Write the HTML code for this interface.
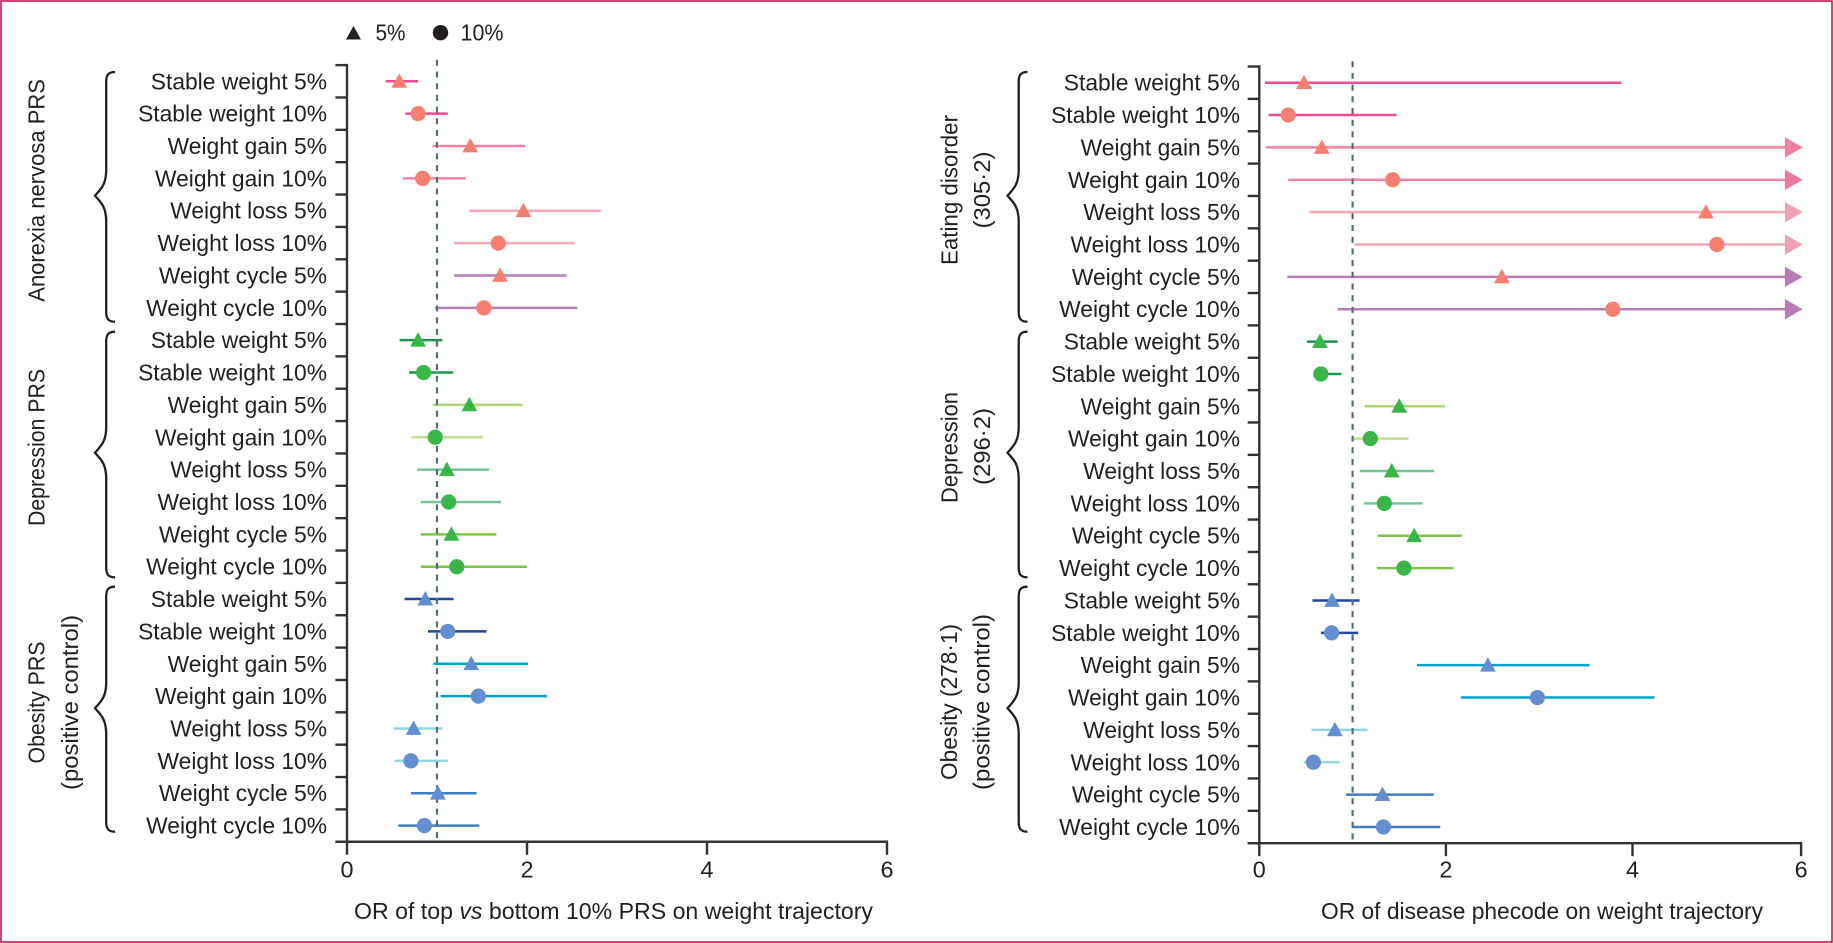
<!DOCTYPE html>
<html lang="en">
<head>
<meta charset="utf-8">
<title>OR forest plots of weight trajectory</title>
<style>
html,body{margin:0;padding:0;background:#fff;width:1833px;height:943px;overflow:hidden}
svg{display:block}
text{font-family:"Liberation Sans",sans-serif;fill:#231f20;font-size:23.4px}
</style>
</head>
<body>
<svg id="figure" xmlns="http://www.w3.org/2000/svg" width="1833" height="943" viewBox="0 0 1833 943">
  <rect x="1" y="1" width="1831" height="941" fill="#fff" stroke="#c8174f" stroke-width="1.6"/>

  <g>
    <polygon points="346,39.5 361,39.5 353.5,26" fill="#231f20"/>
    <text x="375.5" y="40.5" textLength="30" lengthAdjust="spacingAndGlyphs">5%</text>
    <circle cx="440.5" cy="32.7" r="7.7" fill="#231f20"/>
    <text x="460.5" y="40.5" textLength="43" lengthAdjust="spacingAndGlyphs">10%</text>
  </g>

  <g>
    <text transform="translate(44.6 190.4) rotate(-90)" text-anchor="middle" textLength="222.7" lengthAdjust="spacingAndGlyphs">Anorexia nervosa PRS</text>
    <text transform="translate(44.6 447.5) rotate(-90)" text-anchor="middle" textLength="157" lengthAdjust="spacingAndGlyphs">Depression PRS</text>
    <text transform="translate(44.6 702.5) rotate(-90)" text-anchor="middle" textLength="122" lengthAdjust="spacingAndGlyphs">Obesity PRS</text>
    <text transform="translate(78 702.5) rotate(-90)" text-anchor="middle" textLength="175" lengthAdjust="spacingAndGlyphs">(positive control)</text>
  </g>

  <g>
    <text transform="translate(957.7 190) rotate(-90)" text-anchor="middle" textLength="150" lengthAdjust="spacingAndGlyphs">Eating disorder</text>
    <text transform="translate(990 190) rotate(-90)" text-anchor="middle" textLength="77" lengthAdjust="spacingAndGlyphs">(305·2)</text>
    <text transform="translate(957.7 447.5) rotate(-90)" text-anchor="middle" textLength="111" lengthAdjust="spacingAndGlyphs">Depression</text>
    <text transform="translate(990 446.5) rotate(-90)" text-anchor="middle" textLength="77" lengthAdjust="spacingAndGlyphs">(296·2)</text>
    <text transform="translate(957 702) rotate(-90)" text-anchor="middle" textLength="156" lengthAdjust="spacingAndGlyphs">Obesity (278·1)</text>
    <text transform="translate(989.5 702) rotate(-90)" text-anchor="middle" textLength="176" lengthAdjust="spacingAndGlyphs">(positive control)</text>
  </g>

  <text x="354" y="919" textLength="519" lengthAdjust="spacingAndGlyphs">OR of top <tspan font-style="italic">vs</tspan> bottom 10% PRS on weight trajectory</text>
  <text x="1321" y="919" textLength="442" lengthAdjust="spacingAndGlyphs">OR of disease phecode on weight trajectory</text>
</svg>

<script>
// ---- Categories ----
const rowLabels = ["Stable weight 5%","Stable weight 10%","Weight gain 5%","Weight gain 10%","Weight loss 5%","Weight loss 10%","Weight cycle 5%","Weight cycle 10%"];
const xTickValues = [0, 2, 4, 6];
const xTickLabels = ["0", "2", "4", "6"];
const referenceOR = 1;

// ---- Left panel: OR of top vs bottom 10% PRS ----
const prsPoint = [
  0.58,0.79,1.37,0.84,1.96,1.68,1.70,1.52,
  0.79,0.85,1.36,0.98,1.11,1.13,1.16,1.22,
  0.87,1.12,1.38,1.46,0.74,0.71,1.01,0.86
];
const prsLow = [
  0.43,0.65,0.95,0.62,1.36,1.19,1.19,0.98,
  0.585,0.69,0.95,0.715,0.78,0.82,0.82,0.82,
  0.64,0.90,0.96,1.04,0.52,0.53,0.71,0.57
];
const prsHigh = [
  0.79,1.12,1.98,1.32,2.82,2.53,2.44,2.56,
  1.06,1.18,1.95,1.51,1.58,1.71,1.66,2.00,
  1.185,1.55,2.01,2.22,1.06,1.12,1.44,1.47
];

// ---- Right panel: OR of disease phecode (high of 6 = runs off the axis) ----
const phecodePoint = [
  0.48,0.31,0.67,1.43,4.87,5.00,2.60,3.79,
  0.65,0.66,1.50,1.19,1.42,1.34,1.66,1.55,
  0.78,0.775,2.45,2.98,0.81,0.58,1.32,1.33
];
const phecodeLow = [
  0.06,0.10,0.07,0.31,0.54,1.02,0.30,0.84,
  0.51,0.60,1.13,0.99,1.075,1.12,1.27,1.26,
  0.57,0.66,1.69,2.16,0.56,0.48,0.93,0.99
];
const phecodeHigh = [
  3.88,1.47,6,6,6,6,6,6,
  0.84,0.88,1.99,1.60,1.875,1.75,2.17,2.08,
  1.075,1.06,3.54,4.26,1.16,0.86,1.87,1.94
];

// ---- Styles (one per row, not data) ----
const lineColors = [
  "#ee4c97","#ee4c97","#f5809f","#f485a5","#f5a8b8","#f5a8b8","#b97eb8","#b97eb8",
  "#21924f","#21924f","#aed672","#bde08c","#72c595","#72c595","#7fc646","#7fc646",
  "#21479b","#21479b","#00a3c7","#00a3c7","#8fd7e2","#8fd7e2","#3f7fc1","#3f7fc1"
];
const arrowColors = [
  "#ee4c97","#ee4c97","#f07fa0","#ee78a0","#eea0b4","#eea0b4","#b87cb6","#b87cb6",
  "#21924f","#21924f","#aed672","#bde08c","#72c595","#72c595","#7fc646","#7fc646",
  "#21479b","#21479b","#00a3c7","#00a3c7","#8fd7e2","#8fd7e2","#3f7fc1","#3f7fc1"
];
const markerColors = ["#f77f72", "#39b54a", "#658ed0"];

const NS = "http://www.w3.org/2000/svg";
const svg = document.getElementById("figure");

function make(tag, attrs, parent) {
  const el = document.createElementNS(NS, tag);
  for (const k in attrs) el.setAttribute(k, attrs[k]);
  parent.appendChild(el);
  return el;
}

// Axis functions
function xLeft(v) { return 347 + 90 * v; }
function xRight(v) { return v <= 4 ? 1259.3 + 93.3 * v : 1632.5 + 84.3 * (v - 4); }

function drawBrace(x, top, tip, bottom, name, parent) {
  const sp = x + 11.2, end = x + 20;
  const d = "M" + end + " " + top +
    " C" + (sp + 2) + " " + top + " " + sp + " " + (top + 3) + " " + sp + " " + (top + 10) +
    " L" + sp + " " + (tip - 26) +
    " C" + sp + " " + (tip - 10) + " " + (x + 5) + " " + (tip - 6) + " " + x + " " + tip +
    " C" + (x + 5) + " " + (tip + 6) + " " + sp + " " + (tip + 10) + " " + sp + " " + (tip + 26) +
    " L" + sp + " " + (bottom - 10) +
    " C" + sp + " " + (bottom - 3) + " " + (sp + 2) + " " + bottom + " " + end + " " + bottom;
  const brace = make("path", { d: d, fill: "none", stroke: "#231f20", "stroke-width": 2.3 }, parent);
  
  
}

function drawPanel(cfg) {
  const panel = make("g", {}, svg);
  
  
  const rowY = i => cfg.y0 + 32.36 * i;
  const axisColor = "#333333";
  const axisWidth = 2.4;
  const x0 = cfg.x(0);

  // Row labels and y ticks
  for (let i = 0; i < 24; i++) {
    const label = make("text", { x: cfg.labelX, y: rowY(i) + 8, "text-anchor": "end", lengthAdjust: "spacingAndGlyphs" }, panel);
    label.textContent = rowLabels[i % 8];
    label.setAttribute('textLength', (label.getComputedTextLength() * 0.975).toFixed(2));
    
    
  }
  for (let i = 0; i <= 24; i++) {
    const ty = rowY(i) - 16.18;
    const tick = make("line", { x1: x0 - 11.6, x2: x0, y1: ty, y2: ty, stroke: axisColor, "stroke-width": axisWidth }, panel);
    
    
  }

  // Axes
  const axisY = rowY(24) - 16.18;
  const yAxis = make("line", { x1: x0, x2: x0, y1: rowY(0) - 17.4, y2: axisY, stroke: axisColor, "stroke-width": axisWidth }, panel);
  
  
  const xAxis = make("line", { x1: x0 - 11.6, x2: cfg.x(6) + 1, y1: axisY, y2: axisY, stroke: axisColor, "stroke-width": axisWidth }, panel);
  
  
  xTickValues.forEach((v, k) => {
    const tx = cfg.x(v);
    const t = make("line", { x1: tx, x2: tx, y1: axisY, y2: axisY + 13, stroke: axisColor, "stroke-width": axisWidth }, panel);
    
    
    const tl = make("text", { x: tx, y: 877.3, "text-anchor": "middle" }, panel);
    tl.textContent = xTickLabels[k];
    
    
  });

  // CI lines
  for (let i = 0; i < 24; i++) {
    const y = rowY(i);
    const clipped = cfg.high[i] >= 6;
    const ci = make("line", {
      x1: cfg.x(cfg.low[i]), x2: clipped ? cfg.x(6) - 16 : cfg.x(cfg.high[i]),
      y1: y, y2: y, stroke: lineColors[i], "stroke-width": 2.5
    }, panel);
    
    
    if (clipped) {
      const tip = cfg.x(6) + 1.5, base = tip - 17.7;
      const arrow = make("polygon", {
        points: base + "," + (y - 10.2) + " " + tip + "," + y + " " + base + "," + (y + 10.2),
        fill: arrowColors[i]
      }, panel);
      
      
    }
  }

  // Reference line
  const rx = cfg.x(referenceOR);
  const ref = make("line", {
    x1: rx, x2: rx, y1: cfg.y0 - 21.5, y2: axisY,
    stroke: "#4f6f7d", "stroke-width": 2.2, "stroke-dasharray": "6 5.7"
  }, panel);
  
  

  // Markers
  for (let i = 0; i < 24; i++) {
    const y = rowY(i), px = cfg.x(cfg.point[i]);
    const fill = markerColors[Math.floor(i / 8)];
    if (i % 2 === 0) {
      const tri = make("polygon", {
        points: (px - 7.9) + "," + (y + 6.4) + " " + (px + 7.9) + "," + (y + 6.4) + " " + px + "," + (y - 8),
        fill: fill
      }, panel);
      
      
    } else {
      const dot = make("circle", { cx: px, cy: y, r: 7.6, fill: fill }, panel);
      
      
    }
  }

  // Braces
  drawBrace(cfg.braceX, 72, 195.7, 321.7, 'group-brace', panel);
  drawBrace(cfg.braceX, 331.7, 452.7, 577.3, 'group-brace', panel);
  drawBrace(cfg.braceX, 586.7, 708.2, 831.7, 'group-brace', panel);
}

drawPanel({ name: "prs-panel", x: xLeft, y0: 81.3, labelX: 327, braceX: 95, point: prsPoint, low: prsLow, high: prsHigh });
drawPanel({ name: "phecode-panel", x: xRight, y0: 82.7, labelX: 1240, braceX: 1007.5, point: phecodePoint, low: phecodeLow, high: phecodeHigh });
</script>
</body>
</html>
